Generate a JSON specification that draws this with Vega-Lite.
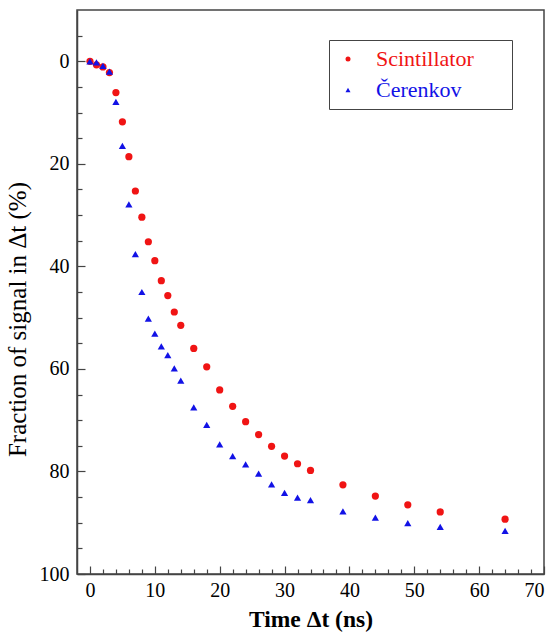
{
  "$schema": "https://vega.github.io/schema/vega-lite/v6.json",
  "width": 467,
  "height": 564,
  "autosize": {"type": "none"},
  "padding": {"left": 77, "top": 10, "right": 10, "bottom": 61},
  "background": "white",
  "config": {
    "font": "Liberation Serif",
    "view": {"stroke": "#444", "strokeWidth": 1.5},
    "axis": {"grid": false, "domainColor": "#444", "domainWidth": 1.5, "tickColor": "#444", "tickWidth": 1.2,
             "labelFont": "Liberation Serif", "labelFontSize": 20, "labelColor": "black",
             "titleFont": "Liberation Serif", "titleFontSize": 25, "titleColor": "black", "titleFontWeight": "normal"},
    "legend": {"labelFont": "serif", "labelFontSize": 22, "labelLimit": 300}
  },
  "data": {"values": [
    {"t": 0, "f": 0, "series": "Scintillator"},
    {"t": 1, "f": 0.7, "series": "Scintillator"},
    {"t": 2, "f": 1.1, "series": "Scintillator"},
    {"t": 3, "f": 2.2, "series": "Scintillator"},
    {"t": 4, "f": 6.1, "series": "Scintillator"},
    {"t": 5, "f": 11.8, "series": "Scintillator"},
    {"t": 6, "f": 18.6, "series": "Scintillator"},
    {"t": 7, "f": 25.3, "series": "Scintillator"},
    {"t": 8, "f": 30.4, "series": "Scintillator"},
    {"t": 9, "f": 35.2, "series": "Scintillator"},
    {"t": 10, "f": 38.9, "series": "Scintillator"},
    {"t": 11, "f": 42.8, "series": "Scintillator"},
    {"t": 12, "f": 45.7, "series": "Scintillator"},
    {"t": 13, "f": 48.9, "series": "Scintillator"},
    {"t": 14, "f": 51.5, "series": "Scintillator"},
    {"t": 16, "f": 56.0, "series": "Scintillator"},
    {"t": 18, "f": 59.6, "series": "Scintillator"},
    {"t": 20, "f": 64.1, "series": "Scintillator"},
    {"t": 22, "f": 67.3, "series": "Scintillator"},
    {"t": 24, "f": 70.3, "series": "Scintillator"},
    {"t": 26, "f": 72.8, "series": "Scintillator"},
    {"t": 28, "f": 75.1, "series": "Scintillator"},
    {"t": 30, "f": 77.0, "series": "Scintillator"},
    {"t": 32, "f": 78.5, "series": "Scintillator"},
    {"t": 34, "f": 79.8, "series": "Scintillator"},
    {"t": 39, "f": 82.6, "series": "Scintillator"},
    {"t": 44, "f": 84.8, "series": "Scintillator"},
    {"t": 49, "f": 86.5, "series": "Scintillator"},
    {"t": 54, "f": 87.9, "series": "Scintillator"},
    {"t": 64, "f": 89.3, "series": "Scintillator"},
    {"t": 0, "f": 0, "series": "Čerenkov"},
    {"t": 1, "f": 0.2, "series": "Čerenkov"},
    {"t": 2, "f": 0.9, "series": "Čerenkov"},
    {"t": 3, "f": 2.0, "series": "Čerenkov"},
    {"t": 4, "f": 7.9, "series": "Čerenkov"},
    {"t": 5, "f": 16.5, "series": "Čerenkov"},
    {"t": 6, "f": 27.9, "series": "Čerenkov"},
    {"t": 7, "f": 37.6, "series": "Čerenkov"},
    {"t": 8, "f": 45.0, "series": "Čerenkov"},
    {"t": 9, "f": 50.2, "series": "Čerenkov"},
    {"t": 10, "f": 53.1, "series": "Čerenkov"},
    {"t": 11, "f": 55.6, "series": "Čerenkov"},
    {"t": 12, "f": 57.3, "series": "Čerenkov"},
    {"t": 13, "f": 59.9, "series": "Čerenkov"},
    {"t": 14, "f": 62.3, "series": "Čerenkov"},
    {"t": 16, "f": 67.5, "series": "Čerenkov"},
    {"t": 18, "f": 70.9, "series": "Čerenkov"},
    {"t": 20, "f": 74.7, "series": "Čerenkov"},
    {"t": 22, "f": 77.0, "series": "Čerenkov"},
    {"t": 24, "f": 78.6, "series": "Čerenkov"},
    {"t": 26, "f": 80.4, "series": "Čerenkov"},
    {"t": 28, "f": 82.5, "series": "Čerenkov"},
    {"t": 30, "f": 84.2, "series": "Čerenkov"},
    {"t": 32, "f": 85.1, "series": "Čerenkov"},
    {"t": 34, "f": 85.6, "series": "Čerenkov"},
    {"t": 39, "f": 87.8, "series": "Čerenkov"},
    {"t": 44, "f": 89.0, "series": "Čerenkov"},
    {"t": 49, "f": 90.1, "series": "Čerenkov"},
    {"t": 54, "f": 90.8, "series": "Čerenkov"},
    {"t": 64, "f": 91.6, "series": "Čerenkov"}
  ]},
  "layer": [
    {
      "mark": {"type": "point", "filled": true, "opacity": 1, "size": 52},
      "encoding": {
        "x": {"field": "t", "type": "quantitative",
              "scale": {"domain": [-2, 70], "nice": false, "zero": false},
              "axis": {"orient": "bottom", "values": [0, 10, 20, 30, 40, 50, 60, 70], "tickSize": -8, "labelPadding": 14,
                       "title": "Time Δt (ns)", "titleFontWeight": "bold", "titleFontSize": 23.5, "titlePadding": 7}},
        "y": {"field": "f", "type": "quantitative",
              "scale": {"domain": [-10, 100], "reverse": true, "nice": false, "zero": false},
              "axis": {"orient": "left", "values": [0, 20, 40, 60, 80, 100], "tickSize": -8, "labelPadding": 16,
                       "title": "Fraction of signal in Δt  (%)", "titleX": -47, "titleY": 309}},
        "color": {"field": "series", "type": "nominal",
                  "scale": {"domain": ["Scintillator", "Čerenkov"], "range": ["#f01414", "#1212e6"]},
                  "legend": {"title": " ", "titleOrient": "right", "titlePadding": 30, "titleFontSize": 22,
                             "orient": "none", "legendX": 252, "legendY": 30,
                             "strokeColor": "#444", "fillColor": "white",
                             "padding": 8, "rowPadding": 9,
                             "labelFont": "serif", "labelFontSize": 22,
                             "labelColor": {"expr": "datum.value === 'Scintillator' ? '#f01414' : '#1212e6'"},
                             "symbolSize": 25, "labelOffset": 17}},
        "shape": {"field": "series", "type": "nominal",
                  "scale": {"domain": ["Scintillator", "Čerenkov"], "range": ["circle", "triangle-up"]}}
      }
    },
    {
      "mark": {"type": "point", "opacity": 0},
      "encoding": {
        "x": {"field": "t", "type": "quantitative",
              "axis": {"orient": "bottom", "values": [2, 4, 6, 8, 12, 14, 16, 18, 22, 24, 26, 28, 32, 34, 36, 38, 42, 44, 46, 48, 52, 54, 56, 58, 62, 64, 66, 68],
                       "tickSize": -5, "labels": false, "domain": false, "title": null}},
        "y": {"field": "f", "type": "quantitative",
              "axis": {"orient": "left", "values": [-5, 5, 10, 15, 25, 30, 35, 45, 50, 55, 65, 70, 75, 85, 90, 95],
                       "tickSize": -5, "labels": false, "domain": false, "title": null}}
      }
    }
  ],
  "resolve": {"axis": {"x": "independent", "y": "independent"}}
}
